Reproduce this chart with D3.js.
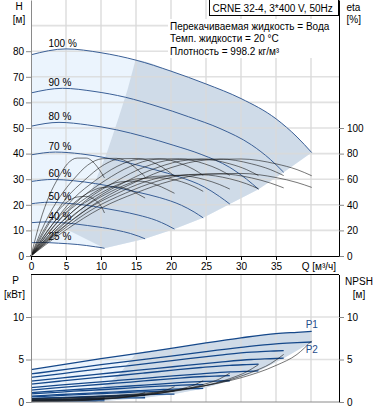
<!DOCTYPE html>
<html>
<head>
<meta charset="utf-8">
<script src="https://cdn.jsdelivr.net/npm/d3@7"></script>
<style>
  body { margin: 0; background: #fff; }
  svg { display: block; font-family: "Liberation Sans", Arial, sans-serif; font-size: 10px; }
</style>
</head>
<body>
<div id="chart"></div>
<script>
// speed labels, one row per speed in every table below
const speeds = ['100 %', '90 %', '80 %', '70 %', '60 %', '50 %', '40 %', '25 %'];

// flow points [m3/h]
const flow = [
  [0, 5, 10, 15, 20, 25, 30, 35, 38, 40.1],
  [0, 4.5, 9, 13.5, 18, 22.5, 27, 31.5, 34.2, 36.1],
  [0, 4, 8.1, 12.2, 16.2, 20.3, 24.3, 28.4, 30.8, 32.5],
  [0, 3.5, 7.1, 10.6, 14.2, 17.7, 21.2, 24.8, 26.9, 28.4],
  [0, 3.1, 6.1, 9.2, 12.3, 15.3, 18.4, 21.5, 23.3, 24.6],
  [0, 2.6, 5.1, 7.7, 10.2, 12.8, 15.3, 17.9, 19.4, 20.5],
  [0, 2, 4.1, 6.1, 8.1, 10.2, 12.2, 14.2, 15.4, 16.3],
  [0, 1.3, 2.6, 3.9, 5.2, 6.6, 7.9, 9.2, 10, 10.5]
];
// head H [m]
const head = [
  [78.6, 80.9, 79.4, 76.5, 72.2, 67.2, 61.5, 53.6, 46.5, 40.4],
  [63.7, 65.5, 64.3, 62.0, 58.5, 54.4, 49.8, 43.4, 37.7, 32.7],
  [50.7, 52.2, 51.2, 49.3, 46.6, 43.3, 39.7, 34.6, 30.0, 26.1],
  [39.5, 40.6, 39.9, 38.4, 36.2, 33.7, 30.9, 26.9, 23.3, 20.3],
  [29.1, 29.9, 29.4, 28.3, 26.7, 24.9, 22.8, 19.8, 17.2, 14.9],
  [20.4, 21.0, 20.6, 19.9, 18.8, 17.5, 16.0, 13.9, 12.1, 10.5],
  [13.0, 13.3, 13.1, 12.6, 11.9, 11.1, 10.1, 8.8, 7.7, 6.7],
  [5.2, 5.3, 5.2, 5.0, 4.8, 4.5, 4.1, 3.6, 3.3, 3.0]
];
// pump efficiency [%]
const etaPump = [
  [0, 24, 44, 58, 69, 75, 75.8, 72, 67.5, 62.7],
  [0, 24, 44, 58, 69, 75, 75.8, 72, 67.5, 62.8],
  [0, 24.5, 44.5, 58.5, 69.5, 75.2, 75.8, 72, 67.5, 62.8],
  [0, 25, 45, 59, 70, 75.5, 76, 72, 67.5, 63],
  [0, 25, 45, 59, 70, 75.5, 76, 72, 67.5, 63],
  [0, 25.5, 45.5, 59.5, 70.5, 76, 76.2, 72, 67, 62.5],
  [0, 26, 46, 60, 71, 76, 76.3, 72, 66.5, 62],
  [0, 27, 47, 61, 72, 76.5, 76.5, 71.5, 65.5, 61]
];
// total efficiency [%]
const etaTotal = [
  [0, 20.4, 37.4, 49.3, 58.7, 63.9, 64.5, 61.3, 57.4, 53.6],
  [0, 20.3, 37.2, 49.1, 58.4, 63.6, 64.2, 61, 57, 53.2],
  [0, 20.1, 36.8, 48.6, 57.8, 62.9, 63.5, 60.3, 56.4, 52.5],
  [0, 19.9, 36.4, 48, 57.1, 62.2, 62.8, 59.7, 55.9, 52.3],
  [0, 19.3, 35.4, 46.7, 55.5, 60.4, 61, 58, 54.2, 50.5],
  [0, 18.5, 33.9, 44.8, 53.2, 57.9, 58.5, 55.6, 52, 49],
  [0, 17.1, 31.3, 41.3, 49.1, 53.5, 54, 51.3, 48, 45.3],
  [0, 14.8, 27, 35.6, 42.4, 46.1, 46.6, 43.5, 39, 33.6]
];
// input power P1 [kW]
const powerP1 = [
  [3.8, 4.45, 5.1, 5.7, 6.3, 6.95, 7.55, 8.05, 8.2, 8.3],
  [2.9, 3.35, 3.81, 4.23, 4.65, 5.11, 5.52, 5.87, 5.98, 6.05],
  [2.1, 2.44, 2.78, 3.09, 3.41, 3.75, 4.06, 4.32, 4.4, 4.45],
  [1.4, 1.65, 1.89, 2.12, 2.35, 2.59, 2.82, 3.0, 3.06, 3.1],
  [0.95, 1.11, 1.27, 1.41, 1.56, 1.72, 1.87, 1.99, 2.03, 2.05],
  [0.6, 0.7, 0.8, 0.9, 0.99, 1.09, 1.18, 1.26, 1.28, 1.3],
  [0.4, 0.45, 0.5, 0.55, 0.59, 0.65, 0.69, 0.73, 0.74, 0.75],
  [0.2, 0.21, 0.23, 0.24, 0.26, 0.27, 0.28, 0.29, 0.3, 0.3]
];
// shaft power P2 [kW]
const powerP2 = [
  [3.3, 3.84, 4.39, 4.89, 5.39, 5.93, 6.43, 6.85, 6.98, 7.06],
  [2.45, 2.84, 3.23, 3.59, 3.95, 4.34, 4.7, 5.0, 5.09, 5.15],
  [1.7, 1.98, 2.26, 2.52, 2.78, 3.07, 3.32, 3.54, 3.61, 3.65],
  [1.1, 1.3, 1.5, 1.69, 1.88, 2.08, 2.27, 2.42, 2.47, 2.5],
  [0.7, 0.83, 0.96, 1.08, 1.2, 1.33, 1.45, 1.55, 1.58, 1.6],
  [0.4, 0.48, 0.55, 0.62, 0.69, 0.77, 0.84, 0.9, 0.92, 0.93],
  [0.22, 0.26, 0.3, 0.34, 0.38, 0.42, 0.45, 0.48, 0.49, 0.5],
  [0.06, 0.07, 0.08, 0.09, 0.1, 0.11, 0.12, 0.12, 0.13, 0.13]
];
// NPSH [m]
const npsh = [
  [0.4, 0.5, 0.7, 0.95, 1.35, 1.95, 2.85, 4.3, 5.6, 7.2],
  [0.3, 0.4, 0.55, 0.78, 1.1, 1.58, 2.3, 3.5, 4.5, 5.6],
  [0.25, 0.32, 0.45, 0.62, 0.87, 1.25, 1.82, 2.75, 3.55, 4.4],
  [0.2, 0.25, 0.35, 0.48, 0.67, 0.96, 1.4, 2.1, 2.7, 3.4],
  [0.15, 0.19, 0.26, 0.36, 0.5, 0.71, 1.03, 1.55, 2.0, 2.5],
  [0.1, 0.13, 0.18, 0.25, 0.35, 0.5, 0.73, 1.1, 1.42, 1.8],
  [0.07, 0.09, 0.12, 0.16, 0.22, 0.31, 0.45, 0.68, 0.88, 1.1],
  [0.03, 0.04, 0.05, 0.07, 0.1, 0.14, 0.2, 0.3, 0.39, 0.5]
];
// left edge of the darker (recommended) area, [Q, H] and [Q, P]
const bepEdgeH = [[5.2, 10.3], [7, 17], [8.5, 24.6], [10.8, 40], [12.4, 53], [13.8, 65], [14.9, 76.3]];
const bepEdgeP = [[5.2, 0.28], [8.5, 1.0], [10.8, 2.05], [12.4, 3.1], [14.9, 5.6]];

const qTicks = [0, 5, 10, 15, 20, 25, 30, 35];
const qGrid = [5, 10, 15, 20, 25, 30, 35, 40];
const hTicks = [0, 10, 20, 30, 40, 50, 60, 70, 80];
const hGrid = [10, 20, 30, 40, 50, 60, 70, 80, 90];
const etaTicks = [0, 20, 40, 60, 80, 100];
const pTicks = [0, 5, 10];
const npshTicks = [0, 5, 10];
const title = 'CRNE 32-4, 3*400 V, 50Hz';
const infoLines = ['Перекачиваемая жидкость = Вода', 'Темп. жидкости = 20 °C', 'Плотность = 998.2 кг/м³'];

const W = 378, Hgt = 410;
const svg = d3.select('#chart').append('svg').attr('width', W).attr('height', Hgt);

// scales
const x = d3.scaleLinear().domain([0, 44]).range([31, 339]);
const yH = d3.scaleLinear().domain([0, 100]).range([256, 0]);
const yEta = d3.scaleLinear().domain([0, 200]).range([256, 0]);
const yP = d3.scaleLinear().domain([0, 15]).range([402, 274.5]);

const pts = (i, vals) => flow[i].map((q, j) => [q, vals[i][j]]);
const last = a => a[a.length - 1];

const lineH = d3.line().x(d => x(d[0])).y(d => yH(d[1])).curve(d3.curveMonotoneX);
const lineEta = d3.line().x(d => x(d[0])).y(d => yEta(d[1])).curve(d3.curveMonotoneX);
const lineP = d3.line().x(d => x(d[0])).y(d => yP(d[1])).curve(d3.curveMonotoneX);
const lineTo = (arr, ys) => arr.map(d => 'L' + x(d[0]) + ',' + ys(d[1])).join('');

const lightFill = '#ebf4fd', darkFill = '#cfdbe8', gridCol = '#dadada';
const nS = speeds.length;

// ---------- top chart: shaded areas ----------
const top100 = pts(0, head);
const ends = d3.range(1, nS).map(i => last(pts(i, head)));
const low25 = pts(nS - 1, head).slice(0, -1).reverse();
svg.append('path')
  .attr('d', lineH(top100) + lineTo(ends, yH) + lineTo(low25, yH) + 'Z')
  .attr('fill', lightFill);

const topPart = [last(bepEdgeH)].concat(top100.filter(d => d[0] > last(bepEdgeH)[0]));
svg.append('path')
  .attr('d', lineH(topPart) + lineTo(ends, yH) + lineTo(bepEdgeH, yH) + 'Z')
  .attr('fill', darkFill);

// grid top
svg.append('g').selectAll('line').data(qGrid).join('line')
  .attr('x1', d => x(d)).attr('x2', d => x(d)).attr('y1', yH(100)).attr('y2', yH(0))
  .attr('stroke', gridCol).attr('stroke-width', 1.6).attr('opacity', 0.8);
svg.append('g').selectAll('line').data(hGrid).join('line')
  .attr('x1', x(0)).attr('x2', x(44)).attr('y1', d => yH(d)).attr('y2', d => yH(d))
  .attr('stroke', gridCol).attr('stroke-width', 1.6).attr('opacity', 0.8);

// info box
svg.append('rect').attr('x', 168).attr('y', 19).attr('width', 171).attr('height', 39).attr('fill', '#fff');
svg.append('g').selectAll('text').data(infoLines).join('text')
  .attr('x', 170).attr('y', (d, i) => 29.5 + i * 12.5).text(d => d).attr('fill', '#000');

// QH curves
const gQH = svg.append('g');
speeds.forEach((s, i) => {
  const p = pts(i, head);
  gQH.append('path').attr('d', lineH(p)).attr('fill', 'none')
    .attr('stroke', '#3a5f96').attr('stroke-width', 1);
  gQH.append('text').attr('x', x(2.5)).attr('y', yH(d3.max(head[i])) - 2).text(s);
});

// efficiency curves
const gEta = svg.append('g');
speeds.forEach((s, i) => {
  [etaPump, etaTotal].forEach(tbl => {
    gEta.append('path').attr('d', lineEta(pts(i, tbl))).attr('fill', 'none')
      .attr('stroke', '#1a1a1a').attr('stroke-width', 0.7).attr('opacity', 0.85);
  });
});

// axes top
const axL = svg.append('g').attr('transform', `translate(${x(0)},0)`)
  .call(d3.axisLeft(yH).tickValues(hTicks).tickSize(5).tickSizeOuter(0).tickPadding(2));
const axR = svg.append('g').attr('transform', `translate(${x(44)},0)`)
  .call(d3.axisRight(yEta).tickValues(etaTicks).tickSize(5).tickSizeOuter(0).tickPadding(3));
const axB = svg.append('g').attr('transform', `translate(0,${yH(0)})`)
  .call(d3.axisBottom(x).tickValues(qTicks).tickSize(4).tickSizeOuter(0).tickPadding(3));
[axL, axR, axB].forEach(a => {
  a.selectAll('text').attr('font-size', 10).attr('font-family', null).attr('fill', '#000');
});
axL.select('.domain').attr('stroke', '#8a8a8a');
axL.selectAll('.tick line').attr('stroke', '#8a8a8a');
axR.selectAll('.tick line').attr('stroke', '#8a8a8a');

svg.append('text').attr('x', 336).attr('y', 270).attr('text-anchor', 'end').text('Q [м³/ч]');
svg.append('text').attr('x', 19).attr('y', 9.5).attr('text-anchor', 'middle').text('H');
svg.append('text').attr('x', 19).attr('y', 22.5).attr('text-anchor', 'middle').text('[м]');
svg.append('text').attr('x', 346.5).attr('y', 11).text('eta');
svg.append('text').attr('x', 346.5).attr('y', 22.5).text('[%]');

// title box
svg.append('rect').attr('x', 209.5).attr('y', -0.5).attr('width', 129).attr('height', 16)
  .attr('fill', '#fff').attr('stroke', '#000').attr('stroke-width', 1);
svg.append('text').attr('x', 212.5).attr('y', 11.5).text(title);

// ---------- bottom chart ----------
const p1top = pts(0, powerP1);
const p2ends = d3.range(0, nS).map(i => last(pts(i, powerP2)));
const p2low = pts(nS - 1, powerP2).slice(0, -1).reverse();
svg.append('path')
  .attr('d', lineP(p1top) + lineTo(p2ends, yP) + lineTo(p2low, yP) + 'Z')
  .attr('fill', lightFill);
const p1part = [last(bepEdgeP)].concat(p1top.filter(d => d[0] > last(bepEdgeP)[0]));
svg.append('path')
  .attr('d', lineP(p1part) + lineTo(p2ends, yP) + lineTo(bepEdgeP, yP) + 'Z')
  .attr('fill', darkFill);

svg.append('g').selectAll('line').data(qGrid).join('line')
  .attr('x1', d => x(d)).attr('x2', d => x(d)).attr('y1', yP(15)).attr('y2', yP(0))
  .attr('stroke', gridCol).attr('stroke-width', 1.6).attr('opacity', 0.8);
svg.append('g').selectAll('line').data([5, 10]).join('line')
  .attr('x1', x(0)).attr('x2', x(44)).attr('y1', d => yP(d)).attr('y2', d => yP(d))
  .attr('stroke', gridCol).attr('stroke-width', 1.6).attr('opacity', 0.8);

// power curves
const gP = svg.append('g');
speeds.forEach((s, i) => {
  [powerP1, powerP2].forEach(tbl => {
    gP.append('path').attr('d', lineP(pts(i, tbl))).attr('fill', 'none')
      .attr('stroke', '#15488a').attr('stroke-width', 1.3);
  });
});
// NPSH curves
const gN = svg.append('g');
speeds.forEach((s, i) => {
  gN.append('path').attr('d', lineP(pts(i, npsh))).attr('fill', 'none')
    .attr('stroke', '#1a1a1a').attr('stroke-width', 0.7).attr('opacity', 0.85);
});

svg.append('text').attr('x', x(last(flow[0])) - 6).attr('y', yP(last(powerP1[0])) - 3)
  .attr('fill', '#1f4e8c').text('P1');
svg.append('text').attr('x', x(last(flow[0])) - 6).attr('y', yP(last(powerP2[0])) + 11)
  .attr('fill', '#1f4e8c').text('P2');

// axes bottom
const bL = svg.append('g').attr('transform', `translate(${x(0)},0)`)
  .call(d3.axisLeft(yP).tickValues(pTicks).tickSize(5).tickSizeOuter(0).tickPadding(2));
const bR = svg.append('g').attr('transform', `translate(${x(44)},0)`)
  .call(d3.axisRight(yP).tickValues(npshTicks).tickSize(5).tickSizeOuter(0).tickPadding(3));
[bL, bR].forEach(a => {
  a.selectAll('text').attr('font-size', 10).attr('font-family', null).attr('fill', '#000');
  a.selectAll('.tick line').attr('stroke', '#8a8a8a');
});
bL.select('.domain').attr('stroke', '#8a8a8a');
svg.append('line').attr('x1', x(0)).attr('x2', x(44)).attr('y1', yP(15)).attr('y2', yP(15)).attr('stroke', '#000');
svg.append('line').attr('x1', x(0)).attr('x2', x(44)).attr('y1', yP(0)).attr('y2', yP(0)).attr('stroke', '#8a8a8a');

svg.append('text').attr('x', 15.5).attr('y', 283.5).attr('text-anchor', 'middle').text('P');
svg.append('text').attr('x', 14.5).attr('y', 297.8).attr('text-anchor', 'middle').text('[кВт]');
svg.append('text').attr('x', 359).attr('y', 284.6).attr('text-anchor', 'middle').text('NPSH');
svg.append('text').attr('x', 359).attr('y', 298).attr('text-anchor', 'middle').text('[м]');
</script>
</body>
</html>
